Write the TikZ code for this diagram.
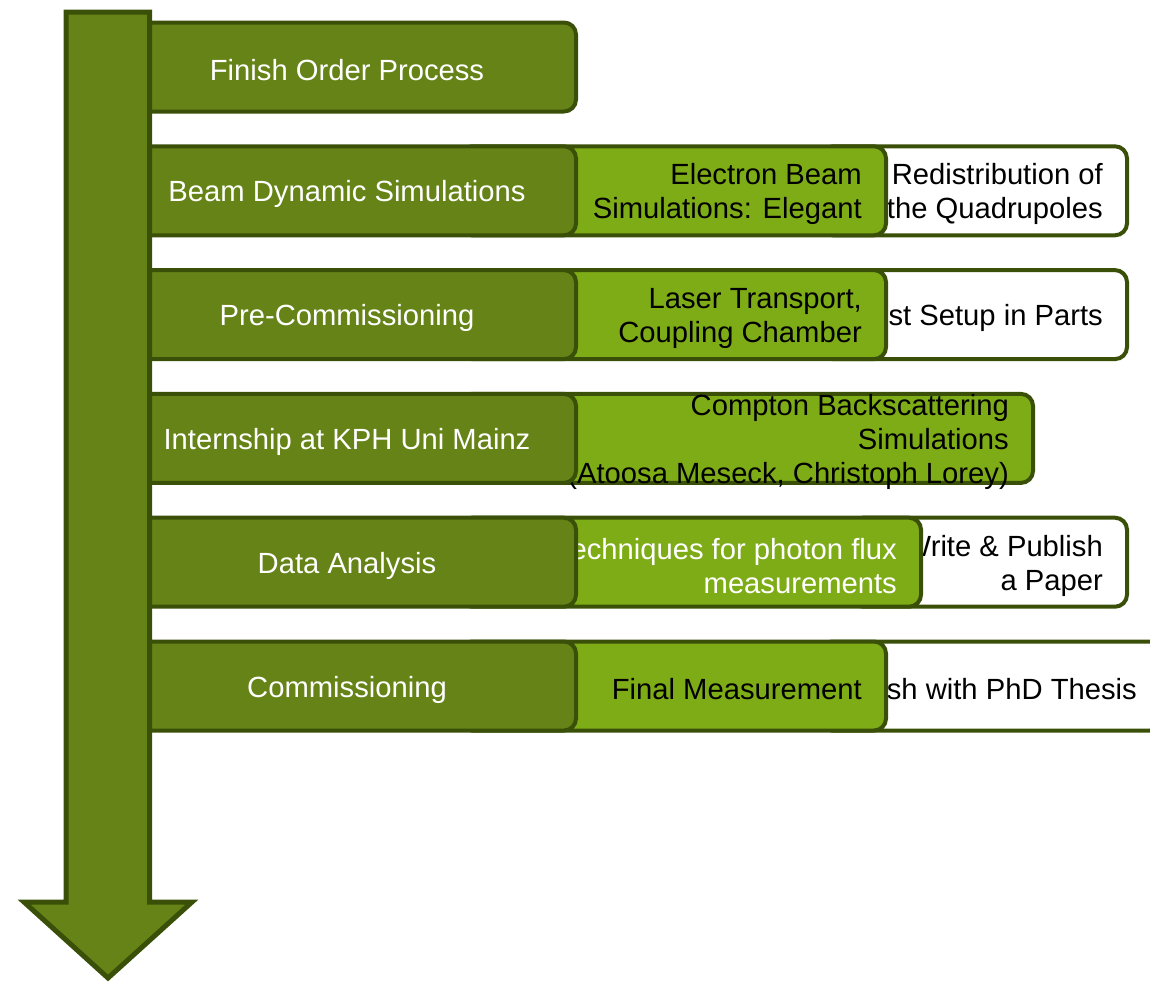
\documentclass[tikz,border=0pt]{standalone}
\usepackage{fontspec}
\setmainfont{Liberation Sans}
\definecolor{olivedark}{HTML}{658316}
\definecolor{olivelight}{HTML}{7EAC17}
\definecolor{oliveedge}{HTML}{3A5008}

\begin{document}
\begin{tikzpicture}[x=1pt,y=-1pt,
  lbl/.style={font=\fontsize{29.2}{34}\selectfont, inner sep=0pt, yshift=-3.5pt},
  boxbase/.style={draw=oliveedge, line width=4pt, rounded corners=12pt,
    minimum height=89pt, inner sep=0pt, outer sep=0pt},
  phasebox/.style={boxbase, fill=olivedark, minimum width=458pt},
  taskbox/.style={boxbase, fill=olivelight},
  notebox/.style={boxbase, fill=white},
  phasetext/.style={lbl, text=white, align=center},
  tasktext/.style={lbl, anchor=east, xshift=-24pt, align=right},
  notetext/.style={lbl, anchor=east, xshift=-24pt, align=right, text=black}]

\useasboundingbox (0,0) rectangle (1150,983);

% --- row 1 -------------------------------------------------------------
\node[phasebox] (p1) at (347,67) {};
\node[phasetext] (p1t) at (p1.center) {Finish Order Process};

% --- row 2 -------------------------------------------------------------
\node[notebox, minimum width=306pt] (n2) at (974,190.8) {};
\node[notetext] (n2t) at (n2.east) {Redistribution of\\the Quadrupoles};
\node[taskbox, minimum width=426pt] (t2) at (673,190.8) {};
\node[tasktext] (t2t) at (t2.east) {Electron Beam\\Simulations: Elegant};
\node[phasebox] (p2) at (347,190.8) {};
\node[phasetext] (p2t) at (p2.center) {Beam Dynamic Simulations};

% --- row 3 -------------------------------------------------------------
\node[notebox, minimum width=306pt] (n3) at (974,314.6) {};
\node[notetext] (n3t) at (n3.east) {Test Setup in Parts};
\node[taskbox, minimum width=426pt] (t3) at (673,314.6) {};
\node[tasktext] (t3t) at (t3.east) {Laser Transport,\\Coupling Chamber};
\node[phasebox] (p3) at (347,314.6) {};
\node[phasetext] (p3t) at (p3.center) {Pre-Commissioning};

% --- row 4 -------------------------------------------------------------
\node[taskbox, minimum width=573pt] (t4) at (746.5,438.4) {};
\node[tasktext] (t4t) at (t4.east) {Compton Backscattering\\Simulations\\(Atoosa Meseck, Christoph Lorey)};
\node[phasebox] (p4) at (347,438.4) {};
\node[phasetext] (p4t) at (p4.center) {Internship at KPH Uni Mainz};

% --- row 5 -------------------------------------------------------------
\node[notebox, minimum width=276pt] (n5) at (989,562.2) {};
\node[notetext] (n5t) at (n5.east) {Write \& Publish\\a Paper};
\node[taskbox, minimum width=461pt] (t5) at (690.5,562.2) {};
\node[tasktext, text=white] (t5t) at (t5.east) {Techniques for photon flux\\measurements};
\node[phasebox] (p5) at (347,562.2) {};
\node[phasetext] (p5t) at (p5.center) {Data Analysis};

% --- row 6 -------------------------------------------------------------
\node[notebox, minimum width=342pt] (n6) at (991,686) {};
\node[notetext, xshift=-1pt] (n6t) at (n6.east) {Finish with PhD Thesis};
\node[taskbox, minimum width=426pt] (t6) at (673,686) {};
\node[tasktext] (t6t) at (t6.east) {Final Measurement};
\node[phasebox] (p6) at (347,686) {};
\node[phasetext] (p6t) at (p6.center) {Commissioning};

% --- time arrow on top of the phase boxes -------------------------------
\draw[fill=olivedark, draw=oliveedge, line width=5pt]
  (66,12) -- (149.5,12) -- (149.5,902) -- (192,902) -- (108,978)
  -- (24,902) -- (66,902) -- cycle;

\end{tikzpicture}
\end{document}
